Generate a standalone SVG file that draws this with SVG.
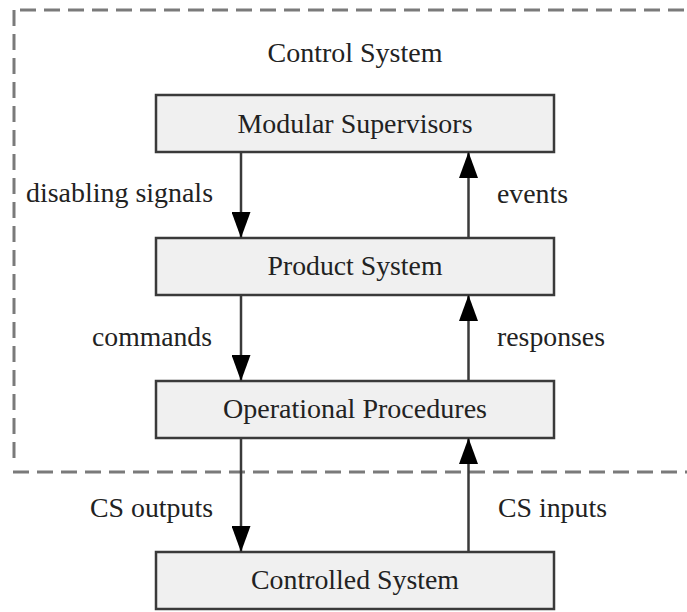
<svg xmlns="http://www.w3.org/2000/svg" width="687" height="612" viewBox="0 0 687 612">
  <defs>
    <style>
      .frame { fill: none; stroke: #7a7a7a; stroke-width: 3; stroke-dasharray: 16 8; }
      .box { fill: #f0f0f0; stroke: #3a3a3a; stroke-width: 2.5; }
      .label { font-family: "Liberation Serif", "Times New Roman", serif; font-size: 27px; fill: #222222; }
      .mid { text-anchor: middle; }
      .wire { stroke: #3a3a3a; stroke-width: 2.5; fill: none; marker-end: url(#head); }
    </style>
    <marker id="head" markerWidth="26" markerHeight="19" refX="26" refY="9.5" orient="auto" markerUnits="userSpaceOnUse" viewBox="0 0 26 19">
      <path d="M0,0 L26,9.5 L0,19 Z" fill="#000"/>
    </marker>
  </defs>

  <rect width="687" height="612" fill="#ffffff"/>

  <!-- Control system boundary (open to the right) -->
  <g id="control-system">
    <line class="frame" x1="20" y1="10" x2="700" y2="10"/>
    <line class="frame" x1="14" y1="10" x2="14" y2="466"/>
    <line class="frame" x1="13" y1="472" x2="700" y2="472"/>
    <text class="label mid" x="355" y="62" textLength="175" lengthAdjust="spacingAndGlyphs">Control System</text>
  </g>

  <g id="modular-supervisors">
    <rect class="box" x="156" y="95" width="398" height="57"/>
    <text class="label mid" x="355" y="133" textLength="235" lengthAdjust="spacingAndGlyphs">Modular Supervisors</text>
  </g>

  <g id="product-system">
    <rect class="box" x="156" y="238" width="398" height="57"/>
    <text class="label mid" x="355" y="275" textLength="175" lengthAdjust="spacingAndGlyphs">Product System</text>
  </g>

  <g id="operational-procedures">
    <rect class="box" x="156" y="381" width="398" height="57"/>
    <text class="label mid" x="355" y="418" textLength="264" lengthAdjust="spacingAndGlyphs">Operational Procedures</text>
  </g>

  <g id="controlled-system">
    <rect class="box" x="156" y="552" width="398" height="57"/>
    <text class="label mid" x="355" y="589" textLength="208" lengthAdjust="spacingAndGlyphs">Controlled System</text>
  </g>

  <!-- Connectors -->
  <g id="connectors">
    <line class="wire" x1="241" y1="152" x2="241" y2="238"/>
    <line class="wire" x1="468.5" y1="238" x2="468.5" y2="152"/>
    <line class="wire" x1="241" y1="295" x2="241" y2="381"/>
    <line class="wire" x1="468.5" y1="381" x2="468.5" y2="295"/>
    <line class="wire" x1="241" y1="438" x2="241" y2="552"/>
    <line class="wire" x1="468.5" y1="552" x2="468.5" y2="438"/>

    <text class="label" x="26" y="202" textLength="187" lengthAdjust="spacingAndGlyphs">disabling signals</text>
    <text class="label" x="497" y="203" textLength="71" lengthAdjust="spacingAndGlyphs">events</text>
    <text class="label" x="92" y="346" textLength="120" lengthAdjust="spacingAndGlyphs">commands</text>
    <text class="label" x="497" y="346" textLength="108" lengthAdjust="spacingAndGlyphs">responses</text>
    <text class="label" x="90" y="517" textLength="123" lengthAdjust="spacingAndGlyphs">CS outputs</text>
    <text class="label" x="498" y="517" textLength="109" lengthAdjust="spacingAndGlyphs">CS inputs</text>
  </g>
</svg>
